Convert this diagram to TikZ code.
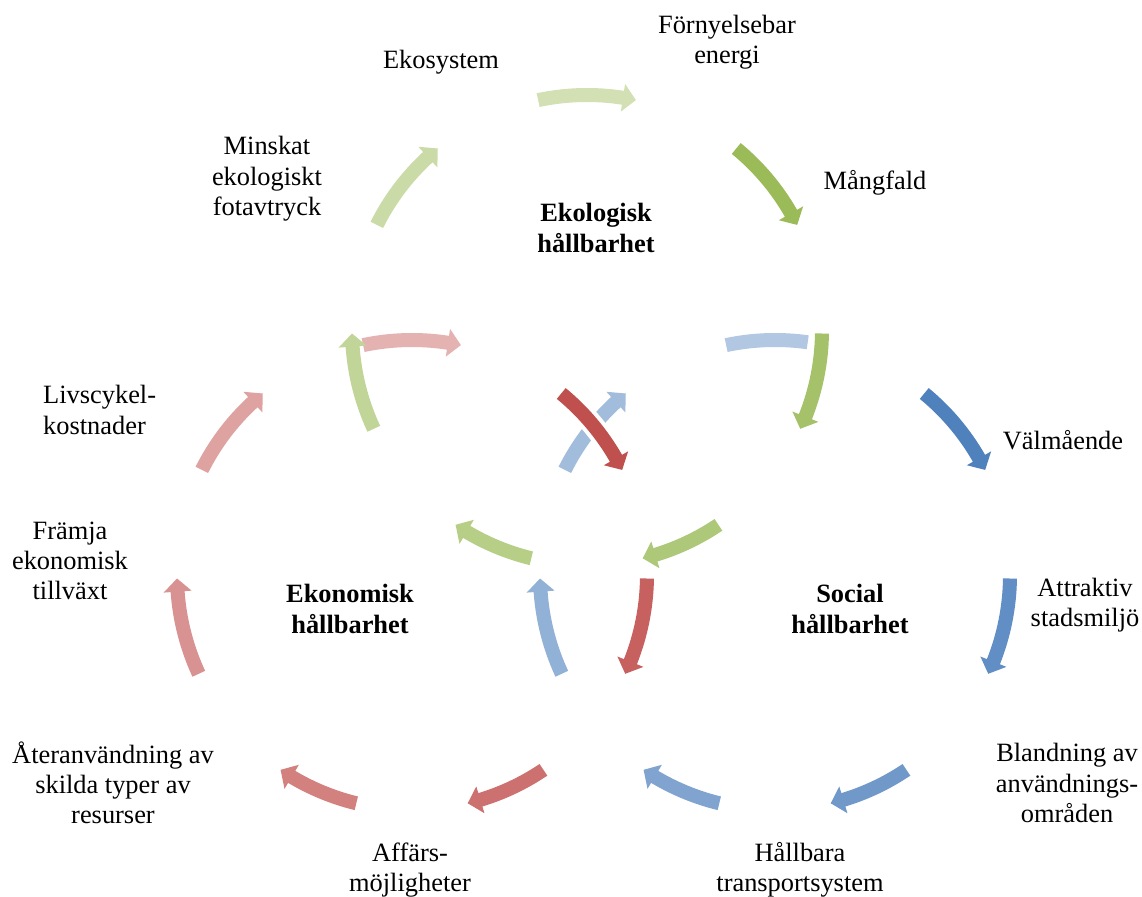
\documentclass[tikz,border=0pt]{standalone}
\usepackage{fontspec}
\setmainfont{Liberation Serif}
\usetikzlibrary{calc}
\definecolor{baseG}{HTML}{9BBB59}
\definecolor{baseR}{HTML}{C0504D}
\definecolor{baseB}{HTML}{4F81BD}
% clockwise curved block arrow: #1 centre, #2 tail angle, #3 tip angle, #4 style
\newcommand\cyclearrow[4]{%
  \pgfmathsetmacro\cyhb{#3+3.2}%
  \fill[#4] ($(#1)+(#2:242)$) arc[start angle=#2,end angle=\cyhb,radius=242]
    -- ($(#1)+(\cyhb:249)$) -- ($(#1)+(#3:235)$) -- ($(#1)+(\cyhb:221)$)
    -- ($(#1)+(\cyhb:228)$) arc[start angle=\cyhb,end angle=#2,radius=228] -- cycle;}
% band without head
\newcommand\cycleband[4]{%
  \fill[#4] ($(#1)+(#2:242)$) arc[start angle=#2,end angle=#3,radius=242]
    -- ($(#1)+(#3:228)$) arc[start angle=#3,end angle=#2,radius=228] -- cycle;}
\begin{document}
\begin{tikzpicture}[x=1pt,y=1pt,
  lbl/.style={font=\fontsize{26.4}{30.3}\selectfont, align=center, inner sep=0pt},
  blbl/.style={lbl, font=\fontsize{26.4}{30.3}\selectfont\bfseries},
  g1/.style={fill=baseG}, g2/.style={fill=baseG!90!white}, g3/.style={fill=baseG!81!white},
  g4/.style={fill=baseG!72!white}, g5/.style={fill=baseG!62!white}, g6/.style={fill=baseG!53!white},
  g0/.style={fill=baseG!45!white},
  r1/.style={fill=baseR}, r2/.style={fill=baseR!90!white}, r3/.style={fill=baseR!81!white},
  r4/.style={fill=baseR!72!white}, r5/.style={fill=baseR!62!white}, r6/.style={fill=baseR!53!white},
  r0/.style={fill=baseR!44!white},
  b1/.style={fill=baseB}, b2/.style={fill=baseB!90!white}, b3/.style={fill=baseB!81!white},
  b4/.style={fill=baseB!72!white}, b5/.style={fill=baseB!62!white}, b6/.style={fill=baseB!53!white},
  b0/.style={fill=baseB!44!white},
  gapline/.style={preaction={draw=white, line width=8pt}}
]
\fill[white] (0,0) rectangle (1142,896);
\useasboundingbox (0,0) rectangle (1142,896);

\coordinate (E) at (587,566);
\coordinate (C) at (412,321);
\coordinate (S) at (775,321);

% Social cycle
\cycleband{S}{102}{82}{b0}
\cyclearrow{S}{50.571}{26.571}{b1}
\cyclearrow{S}{-0.857}{-24.857}{b2}
\cyclearrow{S}{-56}{-76.286}{b3}
\cyclearrow{S}{-103.714}{-124}{b4}
\cyclearrow{S}{-155.143}{-179.143}{b5}
\cyclearrow{S}{-206.571}{-230.571}{b6}

% Economic cycle
\cyclearrow{C}{102}{78}{r0}
\cyclearrow{C}{50.571}{26.571}{r1,gapline}
\cyclearrow{C}{-0.857}{-24.857}{r2}
\cyclearrow{C}{-56}{-76.286}{r3}
\cyclearrow{C}{-103.714}{-124}{r4}
\cyclearrow{C}{-155.143}{-179.143}{r5}
\cyclearrow{C}{-206.571}{-230.571}{r6}

% Ecological cycle
\cyclearrow{E}{102}{78}{g0}
\cyclearrow{E}{50.571}{26.571}{g1}
\cyclearrow{E}{-0.857}{-24.857}{g2}
\cyclearrow{E}{-56}{-76.286}{g3}
\cyclearrow{E}{-103.714}{-124}{g4}
\cyclearrow{E}{-155.143}{-179.143}{g5}
\cyclearrow{E}{-206.571}{-230.571}{g6}

% labels
\node[lbl] (fornyelse) at (727,854) {Förnyelsebar\\energi};
\node[lbl] (ekosystem) at (441,834) {Ekosystem};
\node[lbl] (mangfald) at (875,713) {Mångfald};
\node[lbl] (minskat) at (267,717) {Minskat\\ekologiskt\\fotavtryck};
\node[blbl] (ekologisk) at (596,668) {Ekologisk\\hållbarhet};
\node[lbl, align=left, anchor=west] (livscykel) at (43,486) {Livscykel-\\kostnader};
\node[lbl] (framja) at (70,335) {Främja\\ekonomisk\\tillväxt};
\node[blbl] (ekonomisk) at (350,287) {Ekonomisk\\hållbarhet};
\node[blbl] (social) at (850,287) {Social\\hållbarhet};
\node[lbl] (valmaende) at (1063,456) {Välmående};
\node[lbl] (attraktiv) at (1085,291) {Attraktiv\\stadsmiljö};
\node[lbl] (blandning) at (1067,113) {Blandning av\\användnings-\\områden};
\node[lbl] (hallbara) at (800,26) {Hållbara\\transportsystem};
\node[lbl] (affars) at (410,26) {Affärs-\\möjligheter};
\node[lbl] (ateranv) at (113,113) {Återanvändning av\\skilda typer av\\resurser};
\end{tikzpicture}
\end{document}
